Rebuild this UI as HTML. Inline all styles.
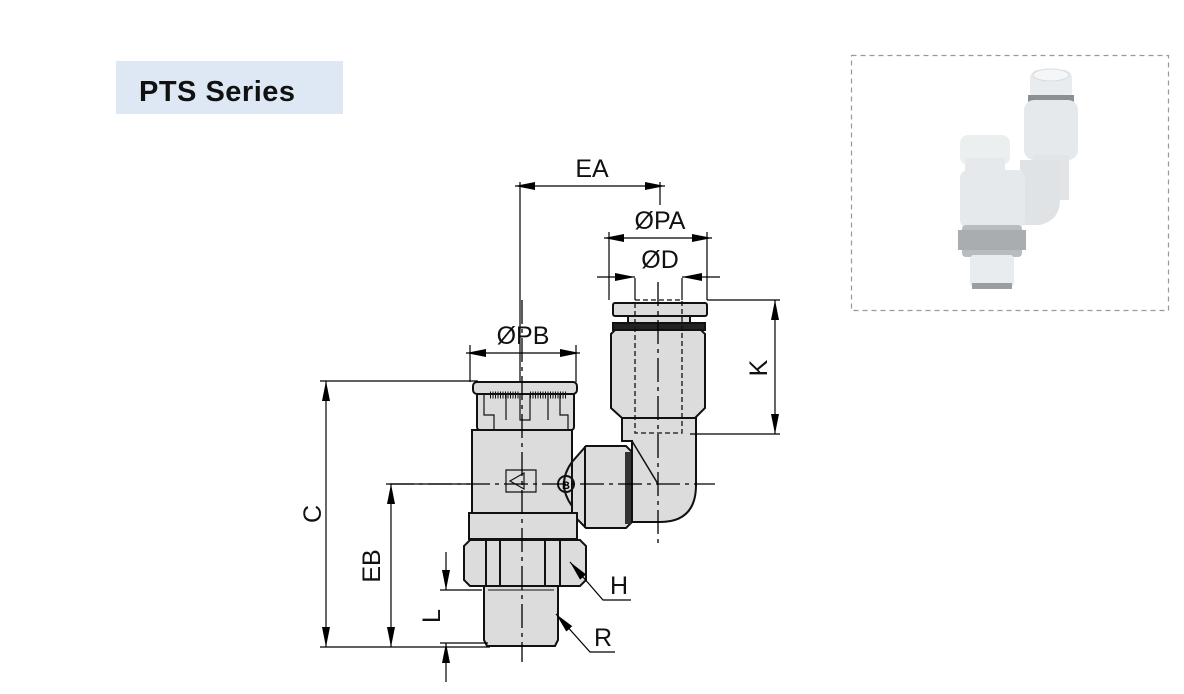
<!DOCTYPE html>
<html><head><meta charset="utf-8"><style>
html,body{margin:0;padding:0;background:#fff;}
svg{display:block;}
text{font-family:"Liberation Sans",sans-serif;}
</style></head><body>
<svg width="1184" height="694" viewBox="0 0 1184 694" xmlns="http://www.w3.org/2000/svg">
<defs>
<marker id="b" viewBox="0 0 20 8" refX="20" refY="4" markerWidth="20" markerHeight="8" orient="auto-start-reverse" markerUnits="userSpaceOnUse"><path d="M0,0L20,4L0,8z" fill="#000"/></marker>
</defs>
<!-- title -->
<rect x="116" y="61" width="227" height="53" fill="#dde8f4"/>
<text x="139" y="101" font-size="29" font-weight="bold" fill="#111" letter-spacing="0.5">PTS Series</text>
<!-- photo box -->
<rect x="851.5" y="55.5" width="317" height="255" fill="#fff" stroke="#999" stroke-width="1.2" stroke-dasharray="5,4"/>
<g>
<rect x="1030" y="70" width="42" height="30" rx="8" fill="#e8ecee"/>
<ellipse cx="1051" cy="75" rx="18" ry="6" fill="#f4f6f7" stroke="#d8dcdf"/>
<rect x="1028" y="95" width="46" height="8" fill="#8a8f93"/>
<rect x="1024" y="100" width="54" height="60" rx="10" fill="#e6e9eb"/>
<rect x="1033" y="155" width="36" height="45" fill="#e2e5e7"/>
<path d="M1020,160 h40 v40 q0,20 -20,25 h-20z" fill="#e0e3e5"/>
<rect x="960" y="135" width="50" height="30" rx="8" fill="#eceff0"/>
<rect x="965" y="158" width="40" height="15" fill="#e6e9eb"/>
<rect x="960" y="170" width="65" height="58" rx="8" fill="#e6e9eb"/>
<rect x="962" y="225" width="60" height="32" rx="4" fill="#b9bcbf"/>
<rect x="958" y="230" width="68" height="20" fill="#a9adb0"/>
<rect x="970" y="255" width="44" height="32" rx="4" fill="#e9ecee"/>
<rect x="972" y="283" width="40" height="6" fill="#9a9ea1"/>
</g>
<!-- right tube -->
<g stroke="#111" stroke-width="2" fill="#dcdcdc">
<path d="M622,416 h74 v69 q0,37 -36,37 h-28 v-81 h-10z"/>
<path d="M611,334 l4,-4 h86 l4,4 v74 l-10,10 h-73 l-11,-10z"/>
<rect x="628" y="315" width="62" height="8"/>
<rect x="613" y="303" width="94" height="13" rx="2"/>
<rect x="613" y="323" width="92" height="7" fill="#222"/>
</g>
<rect x="635" y="300" width="47" height="133" fill="none" stroke="#111" stroke-width="1.3" stroke-dasharray="5,3"/>
<line x1="632" y1="441" x2="658" y2="484" stroke="#111" stroke-width="1.5"/>
<!-- connector -->
<g stroke="#111" stroke-width="2" fill="#dcdcdc">
<path d="M572,462 l14,-16 h40 l6,6 v70 l-6,6 h-40 l-14,-14z"/>
<line x1="585" y1="446" x2="585" y2="528"/>
<rect x="625" y="452" width="6" height="72" fill="#333" stroke="none"/>
</g>
<!-- left body -->
<g stroke="#111" stroke-width="2" fill="#dcdcdc">
<rect x="472" y="430" width="100" height="83"/>
<path d="M572,462 q-16,22 0,44" fill="none"/>
<rect x="477" y="382" width="97" height="48" rx="3"/>
<rect x="473" y="382" width="104" height="12" rx="4"/>
<rect x="469" y="513" width="108" height="26"/>
<path d="M470,540 h110 l6,6 v34 l-6,6 h-110 l-6,-6 v-34z"/>
<line x1="486" y1="541" x2="486" y2="585"/><line x1="500" y1="541" x2="500" y2="585"/>
<line x1="545" y1="541" x2="545" y2="585"/><line x1="560" y1="541" x2="560" y2="585"/>
<path d="M484,586 h74 v54 l-3,6 h-68 l-3,-6z"/>
<line x1="488" y1="590" x2="554" y2="590" stroke-width="1"/>
</g>
<g stroke="#111" stroke-width="1.2" fill="none">
<path d="M484,395 v20 h10 v15 M506,395 v25 M520,395 v25 h10 v-25 M548,395 v25 M560,395 v20 h8 v15"/>
<path d="M490,395 h30 M530,395 h36" stroke-width="7" stroke-dasharray="1,1.5"/>
<circle cx="566" cy="484" r="8" stroke-width="2"/>
<path d="M506,470 h30 v22 h-30 z M510,481 l14,-8 v16z"/>
</g>
<text x="562" y="489" font-size="11" font-weight="bold">B</text>
<!-- center lines -->
<g stroke="#000" stroke-width="1.3" stroke-dasharray="24,5,4,5" fill="none">
<line x1="522" y1="300" x2="522" y2="662"/>
<line x1="658" y1="282" x2="658" y2="545"/>
<line x1="390" y1="484" x2="715" y2="484"/>
</g>
<!-- dimensions -->
<g stroke="#000" stroke-width="1.2" fill="none">
<line x1="520" y1="182" x2="520" y2="382"/>
<line x1="660" y1="182" x2="660" y2="205"/>
<line x1="515" y1="186" x2="665" y2="186" marker-start="url(#b)" marker-end="url(#b)"/>
<line x1="609" y1="232" x2="609" y2="300"/><line x1="707" y1="232" x2="707" y2="300"/>
<line x1="604" y1="238" x2="712" y2="238" marker-start="url(#b)" marker-end="url(#b)"/>
<line x1="635" y1="278" x2="635" y2="300"/><line x1="682" y1="278" x2="682" y2="300"/>
<line x1="597" y1="277" x2="635" y2="277" marker-end="url(#b)"/>
<line x1="720" y1="277" x2="682" y2="277" marker-end="url(#b)"/>
<line x1="470" y1="345" x2="470" y2="382"/><line x1="576" y1="345" x2="576" y2="382"/>
<line x1="466" y1="353" x2="580" y2="353" marker-start="url(#b)" marker-end="url(#b)"/>
<line x1="707" y1="300" x2="780" y2="300"/><line x1="690" y1="434" x2="780" y2="434"/>
<line x1="775" y1="300" x2="775" y2="434" marker-start="url(#b)" marker-end="url(#b)"/>
<line x1="320" y1="381" x2="478" y2="381"/>
<line x1="320" y1="647" x2="490" y2="647"/>
<line x1="326" y1="381" x2="326" y2="647" marker-start="url(#b)" marker-end="url(#b)"/>
<line x1="386" y1="484" x2="470" y2="484"/>
<line x1="391" y1="484" x2="391" y2="647" marker-start="url(#b)" marker-end="url(#b)"/>
<line x1="440" y1="590" x2="482" y2="590"/><line x1="440" y1="643" x2="488" y2="643"/>
<line x1="446" y1="552" x2="446" y2="590" marker-end="url(#b)"/>
<line x1="446" y1="682" x2="446" y2="643" marker-end="url(#b)"/>
<polyline points="570,562 603,600 631,600" marker-start="url(#b)"/>
<polyline points="556,614 590,652 615,652" marker-start="url(#b)"/>
</g>
<g font-size="25" fill="#111" text-anchor="middle">
<text x="592" y="177">EA</text>
<text x="660" y="229">ØPA</text>
<text x="660" y="268">ØD</text>
<text x="523" y="344">ØPB</text>
<text x="619" y="594">H</text>
<text x="603" y="646">R</text>
<text transform="translate(767,368) rotate(-90)">K</text>
<text transform="translate(321,514) rotate(-90)">C</text>
<text transform="translate(380,566) rotate(-90)">EB</text>
<text transform="translate(440,616) rotate(-90)">L</text>
</g>
</svg>
</body></html>
